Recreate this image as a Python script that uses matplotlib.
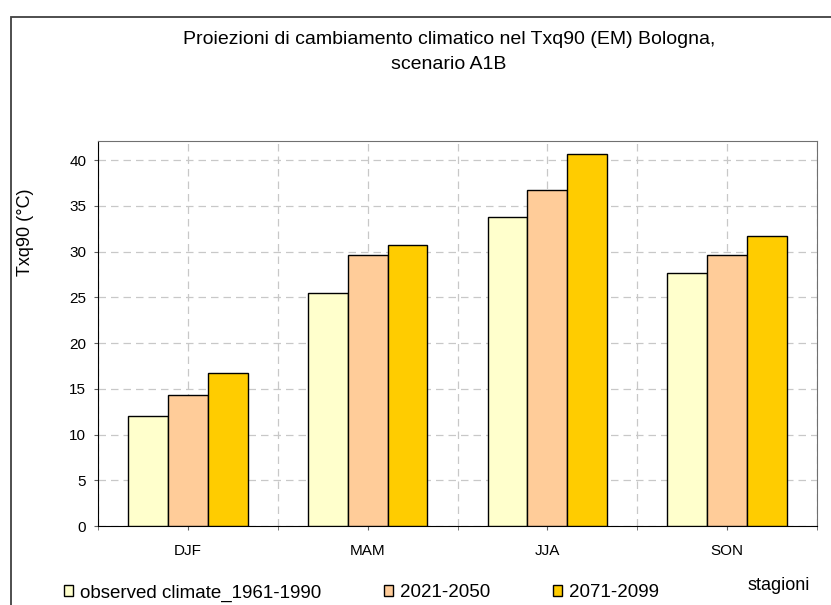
import matplotlib.pyplot as plt
import matplotlib
import numpy as np
from matplotlib.patches import Rectangle

matplotlib.rc('font', family=['Liberation Sans', 'DejaVu Sans'])

stagioni = ['DJF', 'MAM', 'JJA', 'SON']
osservato = [12.0, 25.5, 33.8, 27.7]
p2021_2050 = [14.3, 29.6, 36.7, 29.6]
p2071_2099 = [16.7, 30.7, 40.7, 31.7]
serie_nomi = ['observed climate_1961-1990', '2021-2050', '2071-2099']
colori = ['#FFFFCC', '#FFCC99', '#FFCC00']

fig = plt.figure(figsize=(8.31, 6.05), dpi=100)
# cornice esterna (esce dall'immagine a destra e in basso)
fig.patches.append(Rectangle((11 / 831, -0.1), 1.0, 1.1 - 17 / 605,
                             transform=fig.transFigure, fill=False,
                             edgecolor='#404040', linewidth=1.3))

ax = fig.add_axes([98 / 831, 1 - 526 / 605, (817 - 98) / 831, (526 - 141) / 605])
x = np.arange(len(stagioni))
w = 0.222
barre = []
for i, (vals, c) in enumerate(zip([osservato, p2021_2050, p2071_2099], colori)):
    b = ax.bar(x + (i - 1) * w, vals, w, color=c, edgecolor='black',
               linewidth=1, zorder=3, label=serie_nomi[i])
    barre.append(b)

ax.set_xlim(-0.5, 3.5)
ax.set_ylim(0, 42.1)
ax.set_yticks(range(0, 41, 5))
ax.set_xticks(x)
ax.set_xticklabels(stagioni, fontsize=11)
ax.set_xticks(np.arange(-0.5, 3.6, 1), minor=True)
ax.tick_params(axis='y', labelsize=11, length=3, pad=5.5, color='#606060')
ax.tick_params(axis='x', which='both', length=3, pad=10, color='#606060')
ax.grid(True, which='both', axis='x', linestyle=(0, (6, 4)), color='#C8C8C8', linewidth=0.9, zorder=0)
ax.grid(True, axis='y', linestyle=(0, (6, 4)), color='#C8C8C8', linewidth=0.9, zorder=0)
for s in ['top', 'right']:
    ax.spines[s].set_color('#707070')
ax.set_ylabel('Txq90 (°C)', fontsize=13)
ax.yaxis.set_label_coords((34 - 98) / 719, (526 - 232) / 385)

fig.text(0.54, 1 - 52 / 605, 'Proiezioni di cambiamento climatico nel Txq90 (EM) Bologna,\nscenario A1B',
         ha='center', va='center', fontsize=14, linespacing=1.55)
fig.text(747 / 831, 1 - 586 / 605, 'stagioni', fontsize=13, ha='left', va='center')

fig.legend(handles=barre, labels=serie_nomi, loc='center left', ncol=3,
           bbox_to_anchor=(64 / 831, 1 - 593 / 605), frameon=False, fontsize=13.5,
           handlelength=0.5, handleheight=0.5, handletextpad=0.35,
           columnspacing=3.35, borderaxespad=0, borderpad=0)

fig.savefig('out.png', dpi=100)
